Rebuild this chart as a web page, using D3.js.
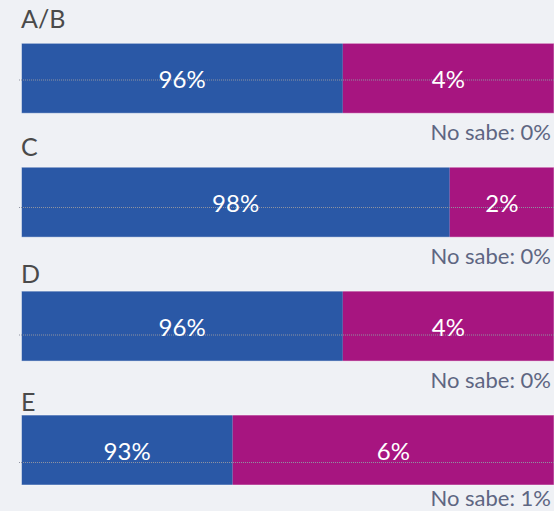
<!DOCTYPE html>
<html>
<head>
<meta charset="utf-8">
<script src="https://cdn.jsdelivr.net/npm/d3@7"></script>
<style>
  html, body { margin: 0; padding: 0; background: #eff1f5; }
  #chart { width: 554px; height: 511px; }
  svg { display: block; font-family: Lato, "Open Sans", sans-serif; }
</style>
</head>
<body>
<div id="chart"></div>
<script>
// groups and shares (%)
const categories = ['A/B', 'C', 'D', 'E'];
const si = [95.55, 97.55, 95.55, 93.49];
const no = [4.45, 2.45, 4.45, 6.01];
const noSabe = [0, 0, 0, 0.5];

const keys = ['si', 'no', 'noSabe'];
const colors = { si: '#2a58a6', no: '#a71580' };

const width = 554;
const height = 511;
const margin = { left: 21.5, right: 0 };

const rows = categories.map((c, i) => ({ cat: c, si: si[i], no: no[i], noSabe: noSabe[i] }));
const series = d3.stack().keys(keys)(rows);

const svg = d3.select('#chart')
    .append('svg')
    .attr('width', width)
    .attr('height', height)
    .attr('viewBox', [0, 0, width, height]);

// the value axis is zoomed in on the upper end
const x = d3.scaleLinear()
    .domain([89.54, 99.5])
    .range([margin.left, width - margin.right])
    .clamp(true);

// bars
const y = d3.scaleBand()
    .domain(categories)
    .range([43.3, 485])
    .paddingInner(0.4355)
    .paddingOuter(0);

// category gridlines / titles
const gy = d3.scaleBand()
    .domain(categories)
    .range([16.25, 526.25]);

const fmt = (v) => Math.round(v) + '%';

svg.append('g')
    .selectAll('g')
    .data(series.filter((s) => s.key !== 'noSabe'))
    .join('g')
    .attr('fill', (s) => colors[s.key])
    .selectAll('rect')
    .data((s) => s)
    .join('rect')
    .attr('x', (d) => x(d[0]))
    .attr('y', (d) => y(d.data.cat))
    .attr('width', (d) => x(d[1]) - x(d[0]))
    .attr('height', y.bandwidth());

// thin light rim round each bar
svg.append('g')
    .selectAll('rect')
    .data(rows)
    .join('rect')
    .attr('x', x(0))
    .attr('y', (d) => y(d.cat))
    .attr('width', (d) => x(d.si + d.no) - x(0))
    .attr('height', y.bandwidth())
    .attr('fill', 'none')
    .attr('stroke', 'rgba(255,255,255,0.45)')
    .attr('stroke-width', 1);

svg.append('g')
    .attr('transform', `translate(${width},0)`)
    .call(d3.axisLeft(gy).tickSizeInner(width - 18).tickSizeOuter(0).tickFormat(''))
    .call((g) => g.select('.domain').remove())
    .call((g) => g.selectAll('.tick line')
        .attr('stroke', '#8f93a0')
        .attr('stroke-dasharray', '1,1'));

// titles above each bar
svg.append('g')
    .selectAll('text')
    .data(categories)
    .join('text')
    .attr('x', 21)
    .attr('y', (d) => gy(d) + gy.bandwidth() / 2 - 52)
    .attr('font-size', 25)
    .attr('fill', '#4a4a4a')
    .text((d) => d);

// value labels, centred on the visible part of each segment
svg.append('g')
    .selectAll('g')
    .data(series.filter((s) => s.key !== 'noSabe'))
    .join('g')
    .selectAll('text')
    .data((s) => s.map((d) => ({ d, v: d.data[s.key] })))
    .join('text')
    .attr('x', ({ d }) => (x(d[0]) + x(d[1])) / 2)
    .attr('y', ({ d }) => y(d.data.cat) + y.bandwidth() / 2 + 10)
    .attr('text-anchor', 'middle')
    .attr('font-size', 24)
    .attr('fill', '#ffffff')
    .text(({ v }) => fmt(v));

// "No sabe" notes
svg.append('g')
    .selectAll('text')
    .data(rows)
    .join('text')
    .attr('x', 551)
    .attr('y', (d) => Math.min(y(d.cat) + y.bandwidth() + 27, 506))
    .attr('text-anchor', 'end')
    .attr('font-size', 22)
    .attr('fill', '#5e6682')
    .text((d) => 'No sabe: ' + fmt(d.noSabe));
</script>
</body>
</html>
